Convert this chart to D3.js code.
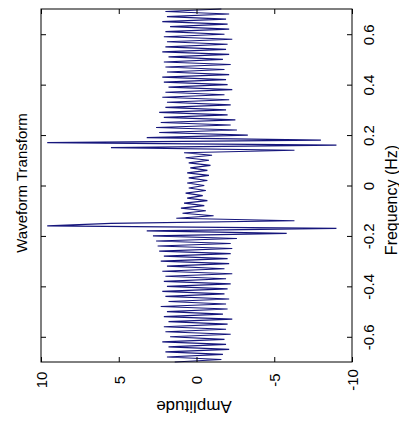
<!DOCTYPE html>
<html>
<head>
<meta charset="utf-8">
<script src="https://cdn.jsdelivr.net/npm/d3@7"></script>
<style>
  body { margin: 0; background: #fff; }
  text { font-family: "Liberation Sans", Arial, sans-serif; }
</style>
</head>
<body>
<svg id="drawing_region"></svg>
<script>
// frequency bins (Hz)
const freq = [
  -0.70,-0.69,-0.68,-0.67,-0.66,-0.65,-0.64,-0.63,-0.62,-0.61,
  -0.60,-0.59,-0.58,-0.57,-0.56,-0.55,-0.54,-0.53,-0.52,-0.51,
  -0.50,-0.49,-0.48,-0.47,-0.46,-0.45,-0.44,-0.43,-0.42,-0.41,
  -0.40,-0.39,-0.38,-0.37,-0.36,-0.35,-0.34,-0.33,-0.32,-0.31,
  -0.30,-0.29,-0.28,-0.27,-0.26,-0.25,-0.24,-0.23,-0.22,-0.21,
  -0.20,-0.19,-0.18,-0.17,-0.16,-0.15,-0.14,-0.13,-0.12,-0.11,
  -0.10,-0.09,-0.08,-0.07,-0.06,-0.05,-0.04,-0.03,-0.02,-0.01,
   0.00, 0.01, 0.02, 0.03, 0.04, 0.05, 0.06, 0.07, 0.08, 0.09,
   0.10, 0.11, 0.12, 0.13, 0.14, 0.15, 0.16, 0.17, 0.18, 0.19,
   0.20, 0.21, 0.22, 0.23, 0.24, 0.25, 0.26, 0.27, 0.28, 0.29,
   0.30, 0.31, 0.32, 0.33, 0.34, 0.35, 0.36, 0.37, 0.38, 0.39,
   0.40, 0.41, 0.42, 0.43, 0.44, 0.45, 0.46, 0.47, 0.48, 0.49,
   0.50, 0.51, 0.52, 0.53, 0.54, 0.55, 0.56, 0.57, 0.58, 0.59,
   0.60, 0.61, 0.62, 0.63, 0.64, 0.65, 0.66, 0.67, 0.68, 0.69,
   0.70
];

// amplitude
const amplitude = [
   1.4,-1.6, 1.9,-1.7, 2.0,-2.1, 1.8,-1.9, 2.2,-1.8,
   1.7,-2.2, 2.0,-1.9, 2.1,-2.0, 1.8,-2.3, 2.1,-1.7,
   1.9,-2.0, 2.3,-1.9, 1.8,-2.1, 2.0,-1.8, 2.2,-2.0,
   1.9,-2.2, 2.1,-1.9, 2.0,-2.3, 2.2,-1.8, 1.9,-2.1,
   2.3,-2.0, 2.1,-2.2, 2.4,-2.3, 2.5,-2.2, 2.6,-2.6,
   2.8,-5.8, 3.2,-9.0, 9.6, 5.5,-6.3, 1.3,-1.1, 0.9,
  -0.6, 1.0,-0.5, 0.8,-0.7, 0.6,-0.4, 0.7,-0.6, 0.5,
  -0.5, 0.6,-0.7, 0.5,-0.8, 0.6,-0.7, 0.4,-0.9, 0.5,
  -0.8, 0.7,-1.0, 0.8,-6.3, 5.5,-9.0, 9.6,-8.0, 3.2,
  -3.3, 2.4,-2.6, 2.6,-2.2, 2.3,-2.5, 2.1,-2.0, 2.4,
  -1.9, 2.0,-2.2, 1.9,-2.1, 2.2,-1.8, 2.0,-2.3, 1.8,
  -2.0, 2.1,-1.9, 2.2,-2.1, 1.9,-1.8, 2.0,-2.2, 2.1,
  -1.7, 1.8,-2.1, 2.2,-1.9, 2.0,-2.0, 1.9,-2.3, 2.1,
  -1.8, 2.0,-2.1, 1.7,-2.0, 2.2,-1.9, 1.9,-2.1, 2.0,
  -1.6
];

const freqTicks = [-0.6, -0.4, -0.2, 0, 0.2, 0.4, 0.6];
const ampTicks = [10, 5, 0, -5, -10];

const data = freq.map((f, i) => ({ f: f, a: amplitude[i] }));

// the MATLAB figure is shown turned a quarter turn: frequency runs upward, amplitude leftward
const config = { width: 399, height: 433, left: 41, right: 352, top: 9, bottom: 362 };

const svg = d3.select('#drawing_region')
    .attr('width', config.width)
    .attr('height', config.height);

svg.append('rect')
    .attr('width', config.width)
    .attr('height', config.height)
    .attr('fill', '#fff');

const yscale = d3.scaleLinear()
    .domain([-0.7, 0.7])
    .range([config.bottom, config.top]);

const xscale = d3.scaleLinear()
    .domain([10, -10])
    .range([config.left, config.right]);

// waveform
const line = d3.line()
    .x(d => xscale(d.a))
    .y(d => yscale(d.f));

svg.append('path')
    .datum(data)
    .attr('d', line)
    .attr('fill', 'none')
    .attr('stroke', '#16167c')
    .attr('stroke-width', 1.15);

// axes (ticks inward, like matlab)
const fmt = d => String(d);

const right_axis = svg.append('g')
    .attr('transform', `translate(${config.right}, 0)`)
    .call(d3.axisRight(yscale).tickValues(freqTicks).tickSize(-5).tickFormat(fmt));

right_axis.selectAll('text')
    .attr('x', 0)
    .attr('y', 0)
    .attr('dy', '0.35em')
    .attr('text-anchor', 'middle')
    .attr('transform', 'translate(17, 0) rotate(-90)');

svg.append('g')
    .attr('transform', `translate(${config.left}, 0)`)
    .call(d3.axisLeft(yscale).tickValues(freqTicks).tickSize(-5).tickFormat(''));

const bottom_axis = svg.append('g')
    .attr('transform', `translate(0, ${config.bottom})`)
    .call(d3.axisBottom(xscale).tickValues(ampTicks).tickSize(-5).tickFormat(fmt));

bottom_axis.selectAll('text')
    .attr('x', 0)
    .attr('y', 0)
    .attr('dy', '0.35em')
    .attr('text-anchor', 'middle')
    .attr('transform', 'translate(0, 18) rotate(-90)');

svg.append('g')
    .attr('transform', `translate(0, ${config.top})`)
    .call(d3.axisTop(xscale).tickValues(ampTicks).tickSize(-5).tickFormat(''));

svg.selectAll('.domain').remove();
svg.selectAll('.tick line').attr('stroke', '#000');
svg.selectAll('.tick text')
    .attr('fill', '#000')
    .attr('font-size', '15px');

svg.append('rect')
    .attr('x', config.left)
    .attr('y', config.top)
    .attr('width', config.right - config.left)
    .attr('height', config.bottom - config.top)
    .attr('fill', 'none')
    .attr('stroke', '#000')
    .attr('stroke-width', 1);

// labels
svg.append('text')
    .attr('transform', 'translate(391, 200) rotate(-90)')
    .attr('text-anchor', 'middle')
    .attr('dy', '0.35em')
    .attr('font-size', '16px')
    .text('Frequency (Hz)');

svg.append('text')
    .attr('transform', 'translate(194, 407) rotate(180)')
    .attr('text-anchor', 'middle')
    .attr('dy', '0.35em')
    .attr('font-size', '17px')
    .text('Amplitude');

svg.append('text')
    .attr('transform', 'translate(22, 183) rotate(-90)')
    .attr('text-anchor', 'middle')
    .attr('dy', '0.35em')
    .attr('font-size', '15px')
    .text('Waveform Transform');
</script>
</body>
</html>
